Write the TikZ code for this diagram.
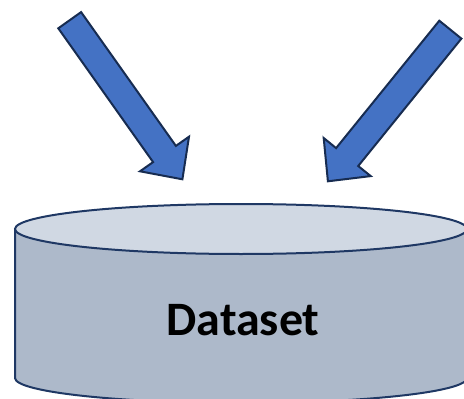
\documentclass[tikz,border=0pt]{standalone}
\usepackage{fontspec}
\setmainfont{Carlito}
\begin{document}
\begin{tikzpicture}[x=1pt,y=-1pt,
  blockarrow/.style={fill=arrowfill,draw=arrowline,line width=2pt,line join=miter},
  canline/.style={draw=canline,line width=2pt},
  label/.style={font=\bfseries\fontsize{48}{56}\selectfont,text=black,inner sep=0pt}]
\definecolor{arrowfill}{HTML}{4472C4}
\definecolor{arrowline}{HTML}{172C51}
\definecolor{canline}{HTML}{1F3864}
\definecolor{canside}{HTML}{ADB9CA}
\definecolor{cantop}{HTML}{D0D8E3}
\useasboundingbox (0,0) rectangle (464,399);
\clip (0,0) rectangle (464,399);
% cylinder body
\path[canline,fill=canside] (15,229) -- (15,378)
  arc[start angle=180,end angle=0,x radius=226,y radius=25] -- (467,229);
\path[canline,fill=cantop] (241,229) ellipse [x radius=226,y radius=25];
\node[label,anchor=base] (dataset) at (243,335) {Dataset};
% left arrow
\path[blockarrow] (58.3,28.3) coordinate (la) -- (81.1,12.1) -- (175.9,145.9) -- (189.0,136.7)
  -- (182.4,179.3) coordinate (ltip) -- (140.0,171.3) -- (153.1,162.1) -- cycle;
% right arrow
\path[blockarrow] (439.3,20.7) coordinate (ra) -- (336.1,148.1) -- (323.7,138.0)
  -- (327.9,181.3) coordinate (rtip) -- (370.7,176.1) -- (358.2,166.0) -- (461.4,38.6) -- cycle;
\end{tikzpicture}
\end{document}
